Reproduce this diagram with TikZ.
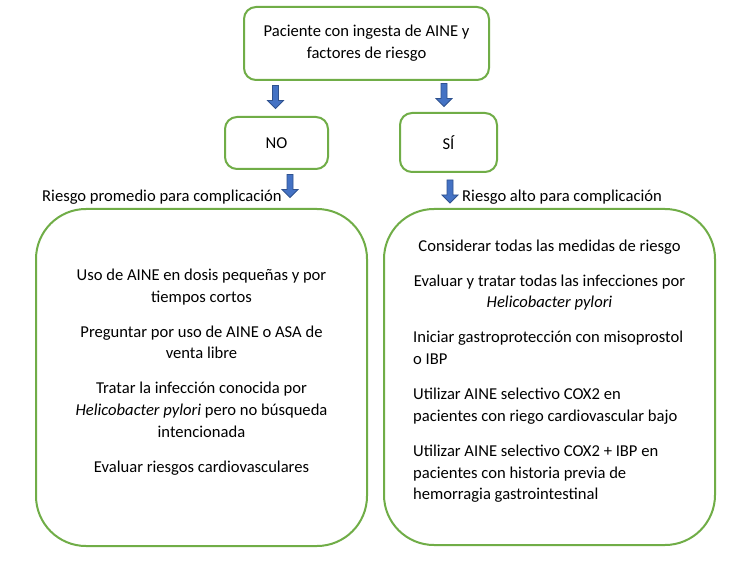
\documentclass[tikz,border=0pt]{standalone}
\usepackage{fontspec}
\setmainfont{Carlito}
\definecolor{boxgreen}{HTML}{70AD47}
\definecolor{arrowblue}{HTML}{4472C4}
\definecolor{arrowedge}{HTML}{2F528F}
\begin{document}
\begin{tikzpicture}[x=1pt,y=-1pt,
  box/.style={draw=boxgreen, line width=2pt, rounded corners=12pt, fill=white, align=center, font=\fontsize{16.6}{21.7}\selectfont},
  bigbox/.style={draw=boxgreen, line width=2pt, rounded corners=50pt},
  txt/.style={inner sep=0pt, font=\fontsize{16.6}{21.7}\selectfont},
  barrow/.style={draw=arrowedge, fill=arrowblue, line width=0.8pt, line join=miter},
  downarrow/.pic={\path[barrow] (-3,0) -- (3,0) -- (3,15) -- (8,15) -- (0,23) -- (-8,15) -- (-3,15) -- cycle;}
]
\useasboundingbox (0,0) rectangle (751,569);
\fill[white] (0,0) rectangle (751,569);

\node[box, minimum width=245pt, minimum height=73pt] (top) at (366.5,43.5) {Paciente con ingesta de AINE y\\factores de riesgo};
\node[box, minimum width=103pt, minimum height=52pt] (no) at (276.5,143) {NO};
\node[box, minimum width=97pt, minimum height=59pt] (si) at (448.5,142.5) {SÍ};

\node[bigbox, minimum width=331pt, minimum height=337pt] (left) at (201.5,377.5) {};
\node[bigbox, minimum width=331pt, minimum height=336pt] (right) at (549.5,377) {};

\node[txt, anchor=west] (lbl1) at (42,197) {Riesgo promedio para complicación};
\node[txt, anchor=west] (lbl2) at (462,197) {Riesgo alto para complicación};

\node[txt, align=center] (ltext) at (201.5,372) {Uso de AINE en dosis pequeñas y por\\tiempos cortos\\[13.3pt]Preguntar por uso de AINE o ASA de\\venta libre\\[13.3pt]Tratar la infección conocida por\\\emph{Helicobacter pylori} pero no búsqueda\\intencionada\\[13.3pt]Evaluar riesgos cardiovasculares};

\node[txt, align=center] (rtext1) at (549.5,275) {Considerar todas las medidas de riesgo\\[13.3pt]Evaluar y tratar todas las infecciones por\\\emph{Helicobacter pylori}};
\node[txt, align=left, anchor=west] (rtext2) at (413,417) {Iniciar gastroprotección con misoprostol\\o IBP\\[13.3pt]Utilizar AINE selectivo COX2 en\\pacientes con riego cardiovascular bajo\\[13.3pt]Utilizar AINE selectivo COX2 + IBP en\\pacientes con historia previa de\\hemorragia gastrointestinal};

\coordinate (a1) at (275.5,85.5);
\coordinate (a2) at (444,83.5);
\coordinate (a3) at (290,174.5);
\coordinate (a4) at (450,180);
\pic at (a1) {downarrow};
\pic at (a2) {downarrow};
\pic at (a3) {downarrow};
\pic at (a4) {downarrow};
\end{tikzpicture}
\end{document}
